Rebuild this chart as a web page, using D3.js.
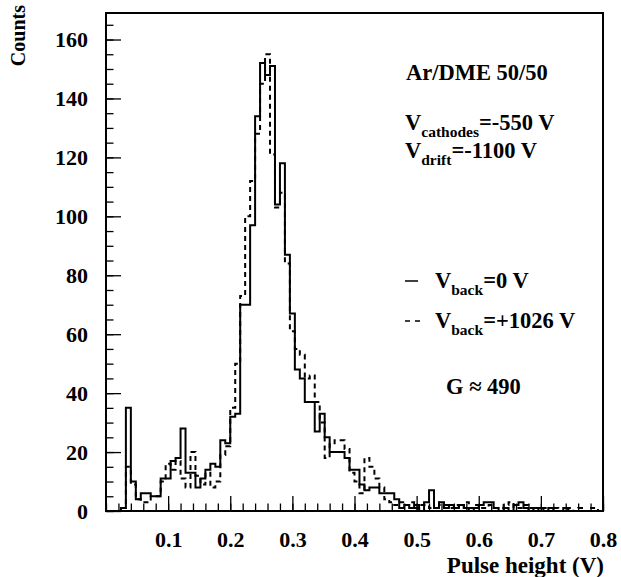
<!DOCTYPE html>
<html>
<head>
<meta charset="utf-8">
<title>pulse height</title>
<script src="https://d3js.org/d3.v7.min.js"></script>
<style>
  body { margin: 0; background: #fff; }
  svg text { font-family: "Liberation Serif", "Times New Roman", serif; font-weight: bold; fill: #000; }
</style>
</head>
<body>
<svg class="chart"></svg>
<script>
// histogram, 100 bins of 0.008 V from 0 to 0.8 V
var binWidth = 0.008;

// V_back = 0 V (solid)
var countsBack0 = [
  0, 0, 0, 1, 35, 10, 4, 6, 6, 5,
  5, 11, 11, 17, 18, 28, 13, 13, 8, 11,
  14, 16, 15, 24, 23, 32, 33, 70, 70, 97,
  134, 152, 148, 151, 104, 118, 87, 67, 48, 45,
  37, 37, 27, 33, 25, 20, 20, 20, 18, 14,
  14, 9, 7, 8, 8, 6, 6, 6, 4, 1,
  2, 1, 2, 0, 3, 7, 1, 3, 1, 2,
  1, 2, 1, 0, 1, 2, 3, 3, 1, 0,
  1, 0, 2, 3, 1, 0, 1, 1, 0, 1,
  0, 0, 1, 0, 0, 0, 0, 0, 0, 0
];

// V_back = +1026 V (dashed)
var countsBack1026 = [
  0, 0, 0, 1, 15, 9, 4, 3, 3, 5,
  5, 10, 16, 14, 17, 11, 8, 20, 12, 9,
  13, 8, 10, 19, 22, 35, 50, 73, 100, 112,
  128, 145, 155, 121, 103, 108, 84, 61, 55, 53,
  45, 46, 37, 30, 18, 23, 24, 24, 21, 13,
  10, 6, 18, 15, 11, 8, 4, 3, 2, 3,
  2, 3, 1, 2, 2, 1, 3, 2, 2, 1,
  2, 1, 3, 1, 2, 1, 1, 2, 1, 1,
  2, 3, 1, 1, 2, 1, 0, 1, 1, 0,
  1, 0, 0, 1, 0, 1, 0, 1, 1, 0
];

var xTickLabels = [0.1, 0.2, 0.3, 0.4, 0.5, 0.6, 0.7, 0.8];
var yTickLabels = [0, 20, 40, 60, 80, 100, 120, 140, 160];

var svgWidth = 621, svgHeight = 577;
var frame = {left: 106, right: 603, top: 13, bottom: 511};
var serif = "'Liberation Serif', 'Times New Roman', serif";

var xScale = d3.scaleLinear().domain([0, 0.8]).range([frame.left, frame.right]);
var yScale = d3.scaleLinear().domain([0, 169]).range([frame.bottom, frame.top]);

var svg = d3.select(".chart")
    .attr("width", svgWidth)
    .attr("height", svgHeight);

// minor ticks
svg.append("g")
    .attr("transform", "translate(" + frame.left + ",0)")
    .call(d3.axisLeft(yScale).tickValues(d3.range(0, 169, 5)).tickSize(-7.5).tickFormat(""))
    .call(g => g.select(".domain").remove());
svg.append("g")
    .attr("transform", "translate(0," + frame.bottom + ")")
    .call(d3.axisBottom(xScale).tickValues(d3.range(0, 0.801, 0.02)).tickSize(-7.5).tickFormat(""))
    .call(g => g.select(".domain").remove());

// major ticks + labels
var yAxis = svg.append("g")
    .attr("transform", "translate(" + frame.left + ",0)")
    .call(d3.axisLeft(yScale).tickValues(yTickLabels).tickSize(-15).tickPadding(18).tickFormat(d3.format("d")));
yAxis.select(".domain").remove();
yAxis.selectAll("text").style("font-size", "22px").style("font-family", serif);

var xAxis = svg.append("g")
    .attr("transform", "translate(0," + frame.bottom + ")")
    .call(d3.axisBottom(xScale).tickValues(xTickLabels).tickSize(-15).tickPadding(20).tickFormat(d3.format(".1f")));
xAxis.select(".domain").remove();
xAxis.selectAll("text").style("font-size", "22px").style("font-family", serif);

svg.selectAll(".tick line").attr("stroke", "#000").attr("stroke-width", 1.3);

// histograms
function stepPoints(counts) {
    var pts = counts.map(function(c, i) { return [i * binWidth, c]; });
    pts.push([counts.length * binWidth, counts[counts.length - 1]]);
    return pts;
}
var line = d3.line()
    .x(d => xScale(d[0]))
    .y(d => yScale(d[1]))
    .curve(d3.curveStepAfter);

svg.append("path")
    .datum(stepPoints(countsBack1026))
    .attr("fill", "none")
    .attr("stroke", "#000")
    .attr("stroke-width", 2)
    .attr("stroke-dasharray", "5,4")
    .attr("d", line);

svg.append("path")
    .datum(stepPoints(countsBack0))
    .attr("fill", "none")
    .attr("stroke", "#000")
    .attr("stroke-width", 2)
    .attr("d", line);

// frame
svg.append("rect")
    .attr("x", frame.left)
    .attr("y", frame.top)
    .attr("width", frame.right - frame.left)
    .attr("height", frame.bottom - frame.top)
    .attr("fill", "none")
    .attr("stroke", "#000")
    .attr("stroke-width", 2);

// axis titles
svg.append("text")
    .attr("x", 604).attr("y", 573)
    .attr("text-anchor", "end")
    .style("font-family", serif)
    .style("font-size", "23px")
    .text("Pulse height (V)");

svg.append("text")
    .attr("transform", "translate(25,5) rotate(-90)")
    .attr("text-anchor", "end")
    .style("font-family", serif)
    .style("font-size", "20px")
    .text("Counts");

// annotations
function labelWithSub(x, y, sub, rest) {
    var t = svg.append("text").attr("x", x).attr("y", y)
        .style("font-family", serif).style("font-size", "22.5px");
    t.append("tspan").text("V");
    t.append("tspan").attr("dy", 7).style("font-size", "15.5px").text(sub);
    t.append("tspan").attr("dy", -7).text(rest);
    return t;
}

svg.append("text")
    .attr("x", 406).attr("y", 80)
    .style("font-family", serif)
    .style("font-size", "22.5px")
    .text("Ar/DME 50/50");

labelWithSub(405, 130, "cathodes", "=-550 V");
labelWithSub(405, 158, "drift", "=-1100 V");

labelWithSub(435, 288, "back", "=0 V");
labelWithSub(435, 328, "back", "=+1026 V");

svg.append("line")
    .attr("x1", 405).attr("x2", 418)
    .attr("y1", 281).attr("y2", 281)
    .attr("stroke", "#000").attr("stroke-width", 1.5);
svg.append("line")
    .attr("x1", 405).attr("x2", 420)
    .attr("y1", 321).attr("y2", 321)
    .attr("stroke", "#000").attr("stroke-width", 1.5)
    .attr("stroke-dasharray", "5,5");

svg.append("text")
    .attr("x", 446).attr("y", 394)
    .style("font-family", serif)
    .style("font-size", "22.5px")
    .text("G \u2248 490");
</script>
</body>
</html>
